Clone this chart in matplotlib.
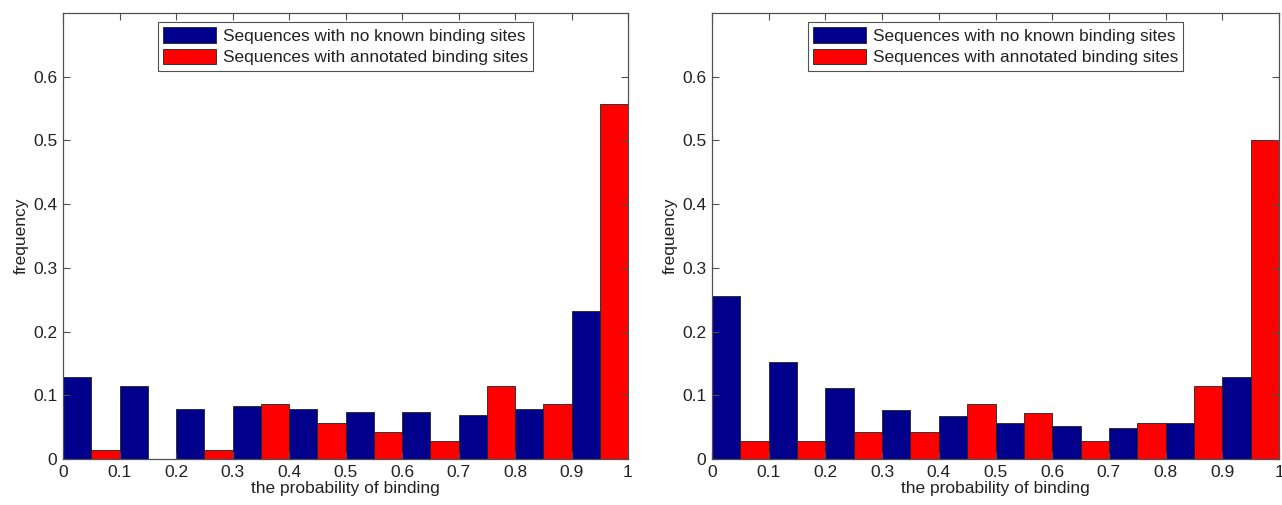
import numpy as np
import matplotlib.pyplot as plt

plt.rcParams['font.family'] = ['Liberation Sans', 'DejaVu Sans']

# histogram bins over the binding probability
bin_edges = np.round(np.arange(0, 1.0, 0.1), 1)
labels = ['Sequences with no known binding sites',
          'Sequences with annotated binding sites']

# left panel
left_unknown = [0.129, 0.114, 0.078, 0.083, 0.078, 0.073, 0.073, 0.069, 0.078, 0.233]
left_annotated = [1/70, 0, 1/70, 6/70, 4/70, 3/70, 2/70, 8/70, 6/70, 39/70]

# right panel
right_unknown = [0.256, 0.153, 0.111, 0.077, 0.067, 0.057, 0.052, 0.048, 0.057, 0.129]
right_annotated = [2/70, 2/70, 3/70, 3/70, 6/70, 5/70, 2/70, 4/70, 8/70, 35/70]

blue = '#00008c'
red = '#ff0000'
axis_grey = '#505050'

fig = plt.figure(figsize=(12.82, 5.05), dpi=100)
ax1 = fig.add_axes([63/1282, 1 - 459/505, 565/1282, 446/505])
ax2 = fig.add_axes([712/1282, 1 - 459/505, 567/1282, 446/505])


def draw_panel(ax, unknown, annotated):
    w = 0.05
    ax.bar(bin_edges, unknown, width=w, align='edge', color=blue,
           edgecolor='#222222', linewidth=0.6, label=labels[0])
    ax.bar(bin_edges + w, annotated, width=w, align='edge', color=red,
           edgecolor='#222222', linewidth=0.6, label=labels[1])
    ax.set_xlim(0, 1)
    ax.set_ylim(0, 0.7)
    ax.set_xticks(np.round(np.arange(0, 1.01, 0.1), 1))
    ax.set_xticklabels(['0'] + [f'{v:.1f}' for v in np.arange(0.1, 0.95, 0.1)] + ['1'])
    ax.set_yticks(np.round(np.arange(0, 0.61, 0.1), 1))
    ax.set_yticklabels(['0'] + [f'{v:.1f}' for v in np.arange(0.1, 0.65, 0.1)])
    ax.tick_params(direction='in', length=5, width=0.8, colors=axis_grey,
                   labelcolor='#222222', labelsize=12.5,
                   top=True, right=True, pad=4)
    for s in ax.spines.values():
        s.set_color(axis_grey)
        s.set_linewidth(0.9)
    ax.set_xlabel('the probability of binding', fontsize=12.5, color='#222222', labelpad=1)
    ax.set_ylabel('frequency', fontsize=12.5, color='#222222', labelpad=3)
    leg = ax.legend(loc='upper center', bbox_to_anchor=(0.5, 0.98), fontsize=12.4,
                    handlelength=3.1, handleheight=1.0, labelspacing=0.3,
                    handletextpad=0.4, borderpad=0.3, borderaxespad=0,
                    fancybox=False, framealpha=1)
    leg.get_frame().set_edgecolor(axis_grey)
    leg.get_frame().set_linewidth(0.8)
    for t in leg.get_texts():
        t.set_color('#222222')


draw_panel(ax1, left_unknown, left_annotated)
draw_panel(ax2, right_unknown, right_annotated)

fig.savefig('out.png', dpi=100)
